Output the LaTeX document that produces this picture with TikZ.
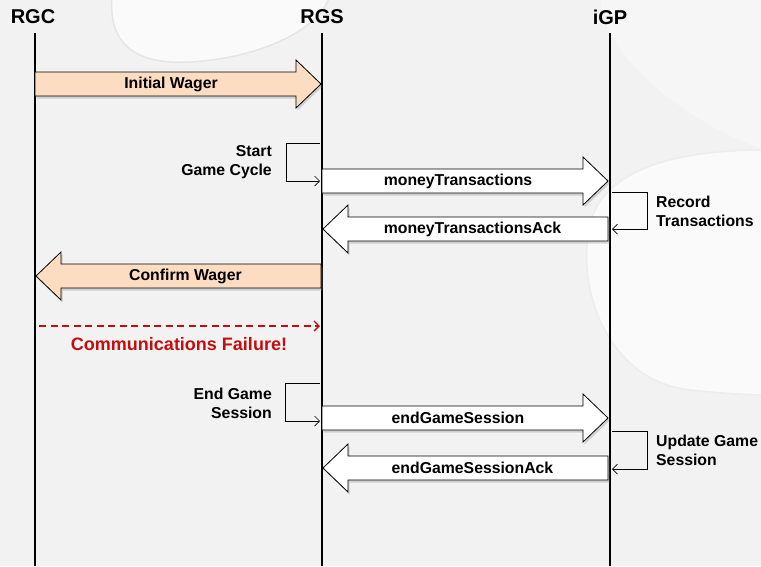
\documentclass[tikz,border=0pt]{standalone}
\usepackage{fontspec}
\setmainfont{Liberation Sans}
\usetikzlibrary{positioning, arrows.meta, shadows}
\definecolor{canvas}{RGB}{242,242,242}
\definecolor{peach}{RGB}{253,221,194}
\definecolor{failred}{RGB}{196,14,14}
\definecolor{pebble}{RGB}{250,250,250}

% block message arrows: style, name, from x, to x, y, text
\newcommand{\msgright}[6]{%
  \draw[msgbox, #1] (#3,#5-12) -- (#4-25,#5-12) -- (#4-25,#5-24) -- (#4,#5)
    -- (#4-25,#5+24) -- (#4-25,#5+12) -- (#3,#5+12) -- cycle;
  \node[msgtext] (#2) at ({(#3+#4)/2-7},#5) {#6};}
\newcommand{\msgleft}[6]{%
  \draw[msgbox, #1] (#3,#5-12) -- (#4+25,#5-12) -- (#4+25,#5-24) -- (#4,#5)
    -- (#4+25,#5+24) -- (#4+25,#5+12) -- (#3,#5+12) -- cycle;
  \node[msgtext] (#2) at ({(#3+#4)/2+7},#5) {#6};}

\begin{document}
\begin{tikzpicture}[x=1pt, y=-1pt,
    actor/.style={font=\fontsize{20}{22}\selectfont\bfseries, inner sep=3pt},
    lifeline/.style={line width=1.4pt, black},
    msgbox/.style={draw=black, line width=0.8pt, fill=white,
                   drop shadow={opacity=0.3, shadow xshift=1.5pt, shadow yshift=-2.5pt}},
    msgtext/.style={font=\fontsize{15.8}{18}\selectfont\bfseries, inner sep=1pt},
    steplabel/.style={font=\fontsize{15.8}{19}\selectfont\bfseries, inner sep=1pt},
    selfloop/.style={line width=0.7pt, -{Straight Barb[length=5pt, width=10pt]}},
    failarrow/.style={failred, line width=1.3pt, dash pattern=on 7pt off 4.5pt,
                      -{Straight Barb[length=5pt, width=10pt]}},
]

% ─── Background ──────────────────────────────────────────────────
\fill[canvas] (0,0) rectangle (761,566);
\useasboundingbox (0,0) rectangle (761,566);
\fill[pebble, draw=black!10, line width=1.5pt]
  (112,-5) .. controls (108,40) and (130,65) .. (190,62)
  .. controls (260,58) and (320,30) .. (330,-5) -- cycle;
\fill[pebble!50!canvas]
  (600,-5) .. controls (600,60) and (700,130) .. (766,150) -- (766,-5) -- cycle;
\fill[pebble, draw=black!7, line width=1.5pt]
  (766,150) .. controls (700,150) and (620,160) .. (595,210)
  .. controls (570,270) and (600,380) .. (690,390)
  .. controls (720,393) and (745,395) .. (766,395) -- cycle;

% ─── Lifelines ───────────────────────────────────────────────────
\node[actor] (rgc) at (33,17) {RGC};
\node[actor] (rgs) at (322,17) {RGS};
\node[actor] (igp) at (610,17) {iGP};
\coordinate (rgcEnd) at (35,566);
\coordinate (rgsEnd) at (322,566);
\coordinate (igpEnd) at (610,566);
\draw[lifeline] (35,33) -- (rgcEnd);
\draw[lifeline] (322,33) -- (rgsEnd);
\draw[lifeline] (610,33) -- (igpEnd);

% ─── Wager ───────────────────────────────────────────────────────
\msgright{fill=peach}{wager}{35}{321}{84}{Initial Wager}

% ─── Start game cycle ────────────────────────────────────────────
\node[steplabel, align=right, anchor=east] (start) at (273,162) {Start\\Game Cycle};
\coordinate (startTop) at (320,143);
\coordinate (startBot) at (320,181);
\draw[selfloop] (startTop) -- ++(-34,0) |- (startBot);

\msgright{}{money}{322}{608}{181}{moneyTransactions}

\node[steplabel, align=left, anchor=west] (record) at (655,211) {Record\\Transactions};
\coordinate (recordTop) at (612,192);
\coordinate (recordBot) at (612,229);
\draw[selfloop] (recordTop) -- ++(35,0) |- (recordBot);

\msgleft{}{moneyAck}{608}{323}{229}{moneyTransactionsAck}
\msgleft{fill=peach}{confirm}{321}{36}{276}{Confirm Wager}

% ─── Failure ─────────────────────────────────────────────────────
\coordinate (failA) at (39,326);
\coordinate (failB) at (320,326);
\draw[failarrow] (failA) -- (failB);
\node[font=\fontsize{18}{20}\selectfont\bfseries, text=failred] (fail) at (179,344)
  {Communications Failure!};

% ─── End game session ────────────────────────────────────────────
\node[steplabel, align=right, anchor=east] (endgame) at (273,403) {End Game\\Session};
\coordinate (endTop) at (320,383);
\coordinate (endBot) at (320,421);
\draw[selfloop] (endTop) -- ++(-35,0) |- (endBot);

\msgright{}{endSess}{322}{608}{418}{endGameSession}

\node[steplabel, align=left, anchor=west] (update) at (655,450) {Update Game\\Session};
\coordinate (updateTop) at (612,431);
\coordinate (updateBot) at (612,469);
\draw[selfloop] (updateTop) -- ++(35,0) |- (updateBot);

\msgleft{}{endSessAck}{608}{323}{468}{endGameSessionAck}

\end{tikzpicture}
\end{document}
